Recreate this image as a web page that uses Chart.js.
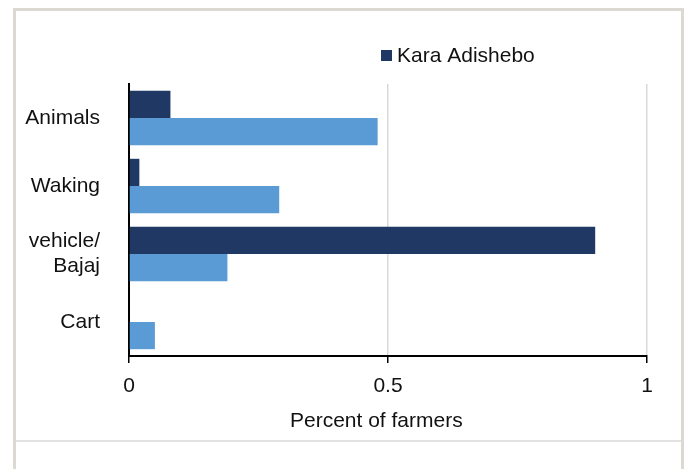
<!DOCTYPE html>
<html lang="en">
<head>
  <meta charset="UTF-8">
  <title>Percent of farmers by transport</title>
  <script src="https://cdn.jsdelivr.net/npm/chart.js"></script>
  <style>
    body {
      margin: 0;
      background: #ffffff;
      font-family: 'Liberation Sans', Arial, sans-serif;
    }

    .wrap {
      position: relative;
      width: 687px;
      height: 469px;
      overflow: hidden;
    }

    .frame {
      position: absolute;
      left: 13px;
      top: 8px;
      width: 665px;
      height: 470px;
      border: 3px solid #dcd9d3;
      border-bottom: none;
    }

    .sep {
      position: absolute;
      left: 16px;
      top: 440px;
      width: 665px;
      height: 2px;
      background: #e2e2e0;
    }

    canvas {
      position: absolute;
      left: 0;
      top: 0;
    }
  </style>
</head>
<body>

<div class="wrap">
  <div class="frame"></div>
  <div class="sep"></div>
  <canvas id="transportChart" width="687" height="469"></canvas>
</div>

<script>
  // Means of transport, share of farmers
  const categories = ['Animals', 'Waking', ['vehicle/', 'Bajaj'], 'Cart'];
  const karaAdishebo = [0.08, 0.02, 0.90, 0];
  const otherSite = [0.48, 0.29, 0.19, 0.05];
  const xTicks = [0, 0.5, 1];

  const font = { family: "'Liberation Sans', Arial, sans-serif", size: 21 };

  // only the first series shows up in the legend of the original
  const legendPlugin = {
    id: 'oneLegend',
    afterDraw(chart) {
      const ctx = chart.ctx;
      const ds = chart.data.datasets[0];
      ctx.save();
      ctx.fillStyle = ds.backgroundColor;
      ctx.fillRect(381, 50, 11, 11);
      ctx.fillStyle = '#111';
      ctx.font = `${font.size}px ${font.family}`;
      ctx.textBaseline = 'middle';
      ctx.fillText(ds.label, 397, 56);
      ctx.restore();
    }
  };

  new Chart(document.getElementById('transportChart'), {
    type: 'bar',
    data: {
      labels: categories,
      datasets: [
        {
          label: 'Kara Adishebo',
          data: karaAdishebo,
          backgroundColor: '#1f3864'
        },
        {
          label: 'Other',
          data: otherSite,
          backgroundColor: '#5b9bd5'
        }
      ]
    },
    options: {
      indexAxis: 'y',
      responsive: false,
      animation: false,
      layout: { padding: { left: 0, right: 40, top: 84, bottom: 35 } },
      datasets: {
        bar: { categoryPercentage: 0.8, barPercentage: 1 }
      },
      plugins: {
        legend: { display: false },
        tooltip: { enabled: false }
      },
      scales: {
        x: {
          min: 0,
          max: 1,
          afterBuildTicks: scale => { scale.ticks = xTicks.map(v => ({ value: v })); },
          afterFit: scale => { scale.height = 78; },
          ticks: { color: '#111', font: font, padding: 11, callback: v => String(v) },
          grid: { color: '#d9d9d9', lineWidth: 1.5, tickColor: '#000', tickLength: 7 },
          border: { color: '#000', width: 2 },
          title: {
            display: true,
            // trailing spaces nudge the centred title a bit to the left, as in the original
            text: 'Percent of farmers    ',
            color: '#111',
            font: font,
            padding: { top: 0, bottom: 0 }
          }
        },
        y: {
          afterFit: scale => { scale.width = 129; },
          ticks: { color: '#111', font: font, padding: 21 },
          grid: { display: false },
          border: { color: '#000', width: 2 }
        }
      }
    },
    plugins: [legendPlugin]
  });
</script>

</body>
</html>
